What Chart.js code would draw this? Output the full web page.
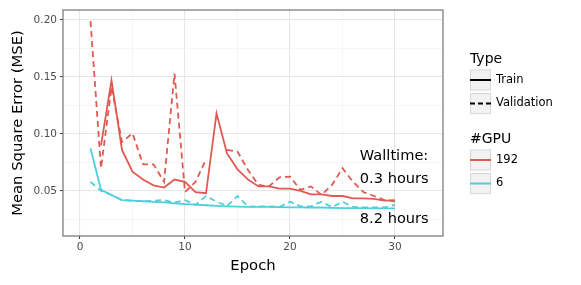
<!DOCTYPE html>
<html>
<head>
<meta charset="utf-8">
<script src="https://cdn.jsdelivr.net/npm/chart.js@4.4.1/dist/chart.umd.min.js"></script>
<style>
  html, body { margin: 0; padding: 0; background: #fff; }
  #wrap { width: 581px; height: 285px; }
</style>
</head>
<body>
<div id="wrap"><canvas id="lossChart"></canvas></div>
<script>
const epochs = [1,2,3,4,5,6,7,8,9,10,11,12,13,14,15,16,17,18,19,20,21,22,23,24,25,26,27,28,29,30];

// 192 GPUs
const train192 = [null,0.090,0.147,0.086,0.067,0.060,0.055,0.053,0.060,0.058,0.049,0.048,0.118,0.083,0.069,0.060,0.054,0.054,0.052,0.052,0.050,0.047,0.047,0.0456,0.0456,0.0436,0.0436,0.043,0.0415,0.042];
const valid192 = [0.199,0.070,0.141,0.093,0.1006,0.0734,0.0734,0.058,0.153,0.049,0.058,0.0778,null,0.086,0.0845,0.0684,0.0553,0.054,0.062,0.0626,0.051,0.054,0.0465,0.0553,0.070,0.058,0.049,0.0456,0.042,0.041];

// 6 GPUs
const train6 = [0.0874,0.051,0.0465,0.042,0.0415,0.041,0.0405,0.040,0.0392,0.0385,0.038,0.0375,0.037,0.0365,0.0362,0.036,0.036,0.036,0.0358,0.0357,0.0356,0.0355,0.0355,0.0352,0.035,0.035,0.035,0.0348,0.0348,0.0348];
const valid6 = [0.058,0.050,0.0465,0.042,0.0415,0.041,0.0415,0.042,0.0397,0.042,0.0377,0.0456,0.0406,0.0368,0.0456,0.0362,0.0365,0.0365,0.036,0.0406,0.0365,0.0365,0.0406,0.0357,0.0406,0.036,0.0357,0.0357,0.0357,0.0377];

const xTicks = [0,5,10,15,20,25,30];
const yTicks = [0.025,0.05,0.075,0.1,0.125,0.15,0.175,0.2];

const typeLabels = ['Train', 'Validation'];
const gpuLabels = ['192', '6'];
const walltimeText = ['Walltime:', '0.3 hours', '8.2 hours'];

const RED = '#df5a53';
const CYAN = '#4ecfdb';
const FONT = '"DejaVu Sans", sans-serif';

function pts(vals) {
    return epochs.map((e, i) => ({ x: e, y: vals[i] }));
}

function series(label, vals, color, dashed) {
    return {
        label: label,
        data: pts(vals),
        borderColor: color,
        borderWidth: 1.8,
        borderDash: dashed ? [6, 4] : [],
        pointRadius: 0,
        tension: 0,
        spanGaps: false,
        fill: false
    };
}

const isMajorX = v => v % 10 === 0;
const isMajorY = v => Math.abs(Math.round(v * 1000) % 50) === 0;

// frame, annotation text and the two-part legend
const extras = {
    id: 'extras',
    afterDraw(chart) {
        const ctx = chart.ctx;
        const a = chart.chartArea;
        const xs = chart.scales.x, ys = chart.scales.y;
        ctx.save();
        ctx.strokeStyle = '#7f7f7f';
        ctx.lineWidth = 1.3;
        ctx.strokeRect(a.left, a.top, a.right - a.left, a.bottom - a.top);

        ctx.fillStyle = '#000';
        ctx.font = '14.6px ' + FONT;
        ctx.textAlign = 'left';
        ctx.textBaseline = 'middle';
        const tx = xs.getPixelForValue(26.65);
        ctx.fillText(walltimeText[0], tx, ys.getPixelForValue(0.0807));
        ctx.fillText(walltimeText[1], tx, ys.getPixelForValue(0.0603));
        ctx.fillText(walltimeText[2], tx, ys.getPixelForValue(0.0254));

        // legend
        const lx = 470;
        function key(y, color, dashed) {
            ctx.fillStyle = '#f2f2f2';
            ctx.fillRect(lx, y, 21, 21);
            ctx.strokeStyle = '#d9d9d9';
            ctx.lineWidth = 1;
            ctx.setLineDash([]);
            ctx.strokeRect(lx + 0.5, y + 0.5, 20, 20);
            ctx.strokeStyle = color;
            ctx.lineWidth = 2;
            ctx.setLineDash(dashed ? [5, 3] : []);
            ctx.beginPath();
            ctx.moveTo(lx, y + 10.5);
            ctx.lineTo(lx + 21, y + 10.5);
            ctx.stroke();
            ctx.setLineDash([]);
        }
        ctx.font = '14px ' + FONT;
        ctx.fillStyle = '#000';
        ctx.fillText('Type', lx, 59);
        key(69.5, '#000', false);
        key(93, '#000', true);
        ctx.fillStyle = '#000';
        ctx.fillText('#GPU', lx, 139);
        key(149.5, RED, false);
        key(173, CYAN, false);

        ctx.font = '11.5px ' + FONT;
        ctx.fillStyle = '#000';
        ctx.fillText(typeLabels[0], 496, 80);
        ctx.fillText(typeLabels[1], 496, 103.5);
        ctx.fillText(gpuLabels[0], 496, 160);
        ctx.fillText(gpuLabels[1], 496, 183.5);
        ctx.restore();
    }
};

new Chart(document.getElementById('lossChart').getContext('2d'), {
    type: 'line',
    data: {
        datasets: [
            series('192 Train', train192, RED, false),
            series('192 Validation', valid192, RED, true),
            series('6 Train', train6, CYAN, false),
            series('6 Validation', valid6, CYAN, true)
        ]
    },
    options: {
        responsive: true,
        maintainAspectRatio: false,
        animation: false,
        layout: { padding: { left: 0, right: 138, top: 10, bottom: 0 } },
        plugins: {
            legend: { display: false },
            tooltip: { enabled: false }
        },
        scales: {
            x: {
                type: 'linear',
                min: -1.62,
                max: 34.57,
                afterBuildTicks: s => { s.ticks = xTicks.map(v => ({ value: v })); },
                afterFit: s => { s.height = 49; },
                border: { display: false },
                grid: {
                    color: c => isMajorX(c.tick.value) ? '#e6e6e6' : '#f3f3f3',
                    lineWidth: c => isMajorX(c.tick.value) ? 1.1 : 0.8,
                    tickColor: c => isMajorX(c.tick.value) ? '#333' : 'rgba(0,0,0,0)',
                    tickLength: 3,
                    tickWidth: 1
                },
                ticks: {
                    autoSkip: false,
                    maxRotation: 0,
                    padding: 2,
                    color: '#4d4d4d',
                    font: { family: FONT, size: 10.5 },
                    callback: v => isMajorX(v) ? String(v) : ''
                },
                title: {
                    display: true,
                    text: 'Epoch',
                    color: '#000',
                    font: { family: FONT, size: 14.8 },
                    padding: { top: 0, bottom: 10 }
                }
            },
            y: {
                min: 0.0105,
                max: 0.2088,
                afterBuildTicks: s => { s.ticks = yTicks.map(v => ({ value: v })); },
                afterFit: s => { s.width = 63; },
                border: { display: false },
                grid: {
                    color: c => isMajorY(c.tick.value) ? '#e6e6e6' : '#f3f3f3',
                    lineWidth: c => isMajorY(c.tick.value) ? 1.1 : 0.8,
                    tickColor: c => isMajorY(c.tick.value) ? '#333' : 'rgba(0,0,0,0)',
                    tickLength: 3,
                    tickWidth: 1
                },
                ticks: {
                    autoSkip: false,
                    padding: 3,
                    color: '#4d4d4d',
                    font: { family: FONT, size: 10.5 },
                    callback: v => isMajorY(v) ? v.toFixed(2) : ''
                },
                title: {
                    display: true,
                    text: 'Mean Square Error (MSE)',
                    color: '#000',
                    font: { family: FONT, size: 14.8 },
                    padding: { top: 9, bottom: 0 }
                }
            }
        }
    },
    plugins: [extras]
});
</script>
</body>
</html>
